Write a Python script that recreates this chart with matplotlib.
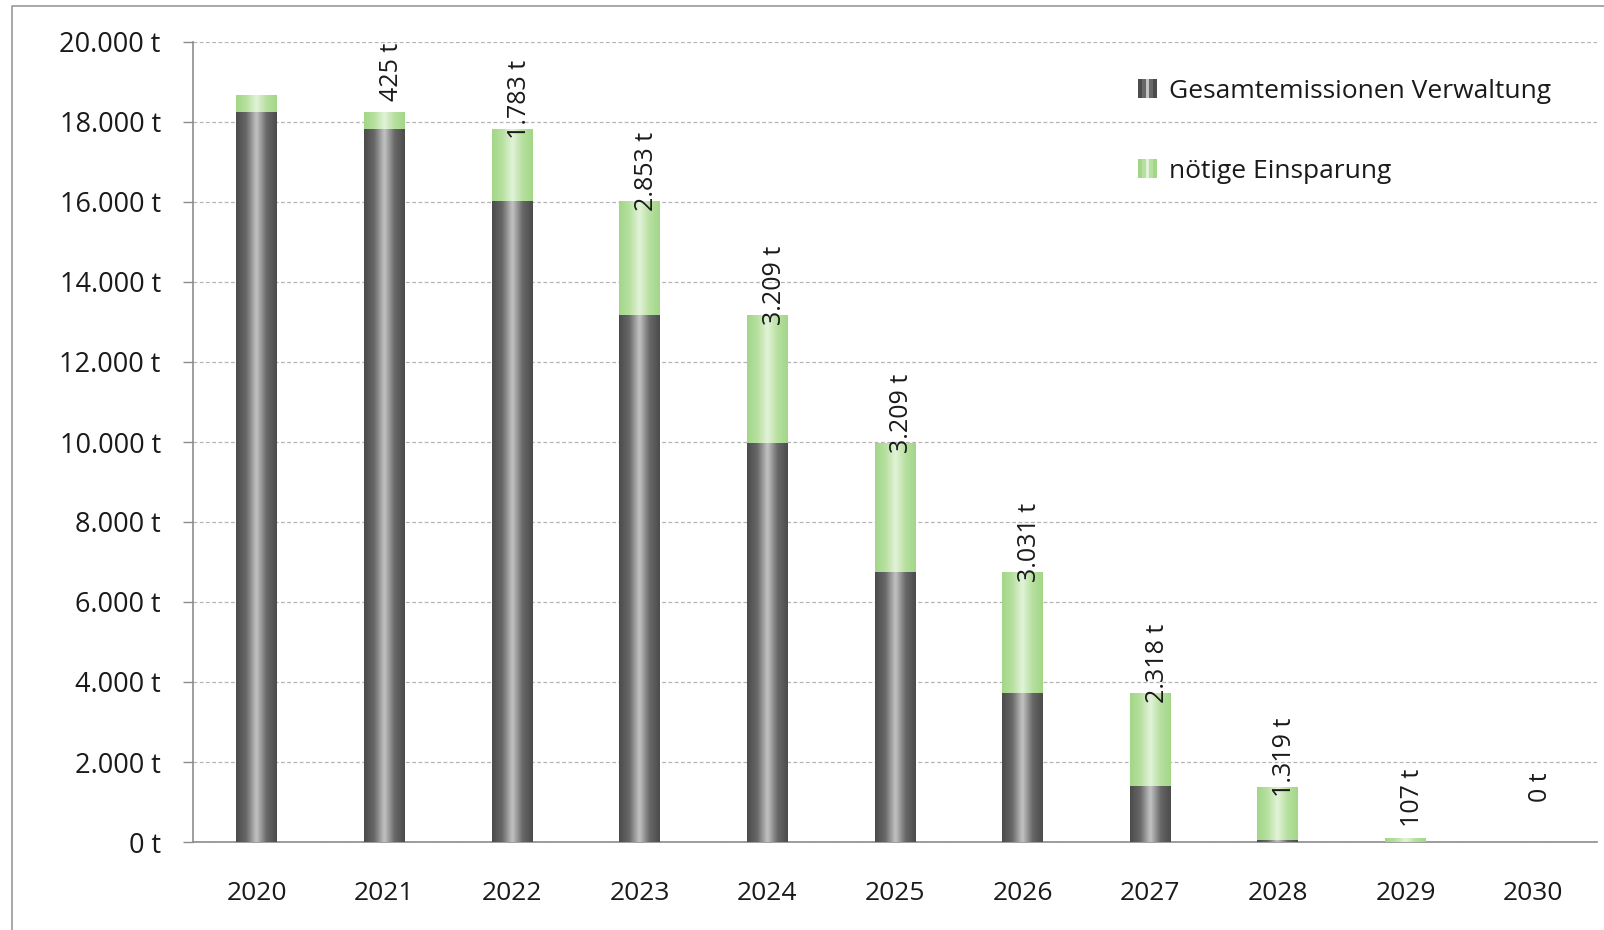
import numpy as np
import matplotlib
matplotlib.use("Agg")
import matplotlib.pyplot as plt
from matplotlib.colors import LinearSegmentedColormap
from matplotlib.legend_handler import HandlerBase
from matplotlib.patches import Rectangle
from matplotlib.lines import Line2D

plt.rcParams['font.family'] = ['Open Sans', 'DejaVu Sans']

years = ['2020', '2021', '2022', '2023', '2024', '2025', '2026', '2027', '2028', '2029', '2030']
gesamt = [18250, 17820, 16030, 13170, 9970, 6760, 3720, 1400, 60, 0, 0]
einsparung = [420, 425, 1783, 2853, 3209, 3209, 3031, 2318, 1319, 107, 0]
label_einsparung = ['', '425 t', '1.783 t', '2.853 t', '3.209 t', '3.209 t',
                    '3.031 t', '2.318 t', '1.319 t', '107 t', '0 t']
y_ticks = [0, 2000, 4000, 6000, 8000, 10000, 12000, 14000, 16000, 18000, 20000]

grey_cols = ['#4c4c4c', '#686868', '#c4c4c4', '#686868', '#4c4c4c']
green_cols = ['#a3d688', '#b6e09f', '#e3f3d9', '#b6e09f', '#a3d688']
cmap_grey = LinearSegmentedColormap.from_list('grau', grey_cols)
cmap_green = LinearSegmentedColormap.from_list('gruen', green_cols)
grad = np.linspace(0, 1, 64).reshape(1, -1)


def fill_gradient(ax, bars, cmap):
    for b in bars:
        if b.get_height() <= 0:
            continue
        x0, y0 = b.get_x(), b.get_y()
        im = ax.imshow(grad, cmap=cmap, aspect='auto', interpolation='bicubic',
                       extent=(x0, x0 + b.get_width(), y0, y0 + b.get_height()),
                       zorder=b.get_zorder())
        im.set_clip_path(b)
        b.set_alpha(0)


class StripeHandler(HandlerBase):
    def __init__(self, cols):
        super().__init__()
        self.cols = cols

    def create_artists(self, legend, orig_handle, xdescent, ydescent, width, height, fontsize, trans):
        n = len(self.cols)
        side = min(width, height)
        arts = []
        for i, c in enumerate(self.cols):
            r = Rectangle((-xdescent + i * side / n, -ydescent + (height - side) / 2),
                          side / n, side, facecolor=c, edgecolor='none', transform=trans)
            arts.append(r)
        return arts


fig = plt.figure(figsize=(16.04, 9.30), dpi=100)
ax = fig.add_axes([193 / 1604, 88 / 930, 1404 / 1604, 800 / 930])

x = np.arange(len(years))
b1 = ax.bar(x, gesamt, width=0.32, color='#5a5a5a', zorder=3)
b2 = ax.bar(x, einsparung, width=0.32, bottom=gesamt, color='#b6e09f', zorder=3)
fill_gradient(ax, b1, cmap_grey)
fill_gradient(ax, b2, cmap_green)

totals = np.array(gesamt) + np.array(einsparung)
for i, lab in enumerate(label_einsparung):
    if lab == '':
        continue
    ax.annotate(lab, (x[i], totals[i]), xytext=(5, 50), textcoords='offset points',
                rotation=90, ha='center', va='top', fontsize=18, color='#1a1a1a', zorder=5)

ax.set_xlim(-0.5, 10.5)
ax.set_ylim(0, 20000)
ax.set_yticks(y_ticks)
ax.set_yticklabels([f"{v:,.0f}".replace(',', '.') + ' t' for v in y_ticks])
ax.set_xticks(x)
ax.set_xticklabels(years)
ax.tick_params(axis='y', length=7.2, width=1, color='#8c8c8c', pad=16, labelsize=19.5, labelcolor='#1a1a1a')
ax.tick_params(axis='x', length=0, pad=28, labelsize=19, labelcolor='#1a1a1a')

ax.grid(axis='y', color='#b4b4b4', linestyle=(0, (3, 2)), linewidth=0.9, zorder=0)
ax.set_axisbelow(True)
for s in ['top', 'right']:
    ax.spines[s].set_visible(False)
ax.spines['left'].set_color('#8c8c8c')
ax.spines['bottom'].set_color('#8c8c8c')
ax.spines['left'].set_linewidth(1.2)
ax.spines['bottom'].set_linewidth(1.2)

h1 = Rectangle((0, 0), 1, 1)
h2 = Rectangle((0, 0), 1, 1)
leg = ax.legend([h1, h2], ['Gesamtemissionen Verwaltung', 'nötige Einsparung'],
                handler_map={h1: StripeHandler(grey_cols), h2: StripeHandler(green_cols)},
                loc='upper left', bbox_to_anchor=(1138 / 1604, 1 - 79 / 930),
                bbox_transform=fig.transFigure, frameon=False, fontsize=19,
                handlelength=0.72, handleheight=0.72, handletextpad=0.45,
                labelspacing=2.08, borderpad=0, borderaxespad=0)
for t in leg.get_texts():
    t.set_color('#1a1a1a')

# Rahmen oben und links
fig.add_artist(Line2D([12 / 1604, 12 / 1604, 1.0], [0.0, 1 - 6 / 930, 1 - 6 / 930],
                      transform=fig.transFigure, color='#9a9a9a', linewidth=1.2))

fig.savefig('out.png', dpi=100)
